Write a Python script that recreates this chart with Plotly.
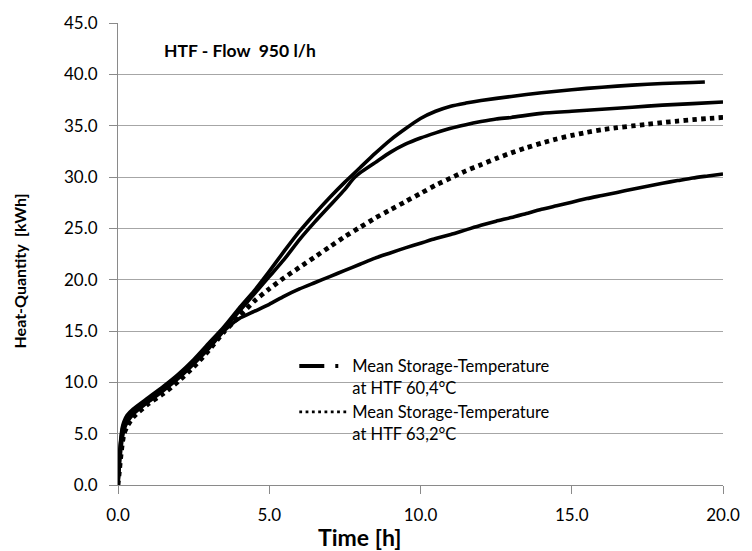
import plotly.graph_objects as go

# ---- data ----
time_a = [0, 0.05, 0.1, 0.15, 0.2, 0.3, 0.5, 1.0, 1.5, 2.0, 2.5, 3.0, 3.5, 4.0, 4.5, 5.0,
          5.5, 6.0, 6.5, 7.0, 7.5, 8.0, 8.5, 9.0, 9.5, 10.0, 10.5, 11.0, 11.5, 12.0,
          13.0, 14.0, 15.0, 16.0, 17.0, 18.0, 19.0, 19.4]
heat_a = [0, 3.0, 4.7, 5.7, 6.2, 6.8, 7.4, 8.5, 9.6, 10.8, 12.2, 13.8, 15.4, 17.2, 18.9, 20.8,
          22.8, 24.7, 26.4, 28.0, 29.5, 30.9, 32.3, 33.6, 34.7, 35.7, 36.4, 36.9, 37.2, 37.45,
          37.85, 38.2, 38.5, 38.75, 38.95, 39.1, 39.2, 39.25]

time_b = [0, 0.05, 0.1, 0.15, 0.2, 0.3, 0.5, 1.0, 1.5, 2.0, 2.5, 3.0, 3.5, 4.0, 4.5, 5.0,
          5.5, 6.0, 6.5, 7.0, 7.5, 7.8, 8.0, 8.5, 9.0, 9.5, 10.0, 10.5, 11.0, 11.5, 12.0,
          12.5, 13.0, 14.0, 15.0, 16.0, 17.0, 18.0, 19.0, 20.0]
heat_b = [0, 2.8, 4.5, 5.5, 6.0, 6.6, 7.2, 8.3, 9.4, 10.6, 12.0, 13.6, 15.2, 16.9, 18.6, 20.3,
          22.0, 23.9, 25.6, 27.2, 28.8, 29.9, 30.4, 31.4, 32.4, 33.2, 33.8, 34.3, 34.75, 35.1, 35.4,
          35.65, 35.8, 36.2, 36.4, 36.6, 36.8, 37.0, 37.15, 37.3]

time_c = [0, 0.05, 0.1, 0.15, 0.2, 0.3, 0.5, 1.0, 1.5, 2.0, 2.5, 3.0, 3.5, 4.0, 4.5, 5.0,
          5.5, 6.0, 6.5, 7.0, 7.5, 8.0, 8.5, 9.0, 9.5, 10.0, 10.5, 11.0, 11.5, 12.0, 12.5,
          13.0, 13.5, 14.0, 14.5, 15.0, 15.5, 16.0, 16.5, 17.0, 17.5, 18.0, 18.5, 19.0, 19.5, 20.0]
heat_c = [0, 1.5, 3.0, 4.2, 5.0, 5.7, 6.6, 7.9, 8.9, 10.1, 11.5, 13.1, 14.9, 16.4, 17.9, 19.1,
          20.2, 21.2, 22.2, 23.2, 24.2, 25.1, 26.0, 26.8, 27.6, 28.4, 29.2, 29.9, 30.6, 31.2, 31.8,
          32.35, 32.85, 33.3, 33.7, 34.05, 34.35, 34.6, 34.8, 34.97, 35.13, 35.3, 35.45, 35.58, 35.7, 35.8]

time_d = [0, 0.05, 0.1, 0.15, 0.2, 0.3, 0.5, 1.0, 1.5, 2.0, 2.5, 3.0, 3.5, 4.0, 4.5, 5.0,
          5.5, 6.0, 6.5, 7.0, 7.5, 8.0, 8.5, 9.0, 9.5, 10.0, 10.5, 11.0, 11.5, 12.0, 12.5,
          13.0, 13.5, 14.0, 14.5, 15.0, 15.5, 16.0, 16.5, 17.0, 17.5, 18.0, 18.5, 19.0, 19.5, 20.0]
heat_d = [0, 2.0, 3.6, 4.7, 5.4, 6.1, 6.9, 8.1, 9.2, 10.4, 11.8, 13.3, 15.0, 16.2, 16.9, 17.6,
          18.4, 19.1, 19.7, 20.3, 20.9, 21.5, 22.1, 22.6, 23.1, 23.55, 24.0, 24.4, 24.85, 25.3, 25.7,
          26.05, 26.45, 26.85, 27.2, 27.55, 27.9, 28.2, 28.5, 28.8, 29.1, 29.4, 29.65, 29.9, 30.1, 30.3]

legend_names = ["Mean Storage-Temperature<br>at HTF 60,4°C",
                "Mean Storage-Temperature<br>at HTF 63,2°C"]
x_ticks = [0, 5, 10, 15, 20]
y_ticks = [0, 5, 10, 15, 20, 25, 30, 35, 40, 45]

FONT = "Lato"
fig = go.Figure()

fig.add_trace(go.Scatter(x=time_a, y=heat_a, mode="lines", line_shape="spline",
                         line=dict(color="black", width=3.6, smoothing=0.6), showlegend=False))
fig.add_trace(go.Scatter(x=time_b, y=heat_b, mode="lines", line_shape="spline",
                         line=dict(color="black", width=3.6, smoothing=0.6), showlegend=False))
fig.add_trace(go.Scatter(x=time_d, y=heat_d, mode="lines", line_shape="spline",
                         line=dict(color="black", width=3.6, smoothing=0.6), showlegend=False))
fig.add_trace(go.Scatter(x=time_c, y=heat_c, mode="lines", line_shape="spline",
                         line=dict(color="black", width=4.8, dash="4.5px,4.3px", smoothing=0.6),
                         showlegend=False))

# legend entries
fig.add_trace(go.Scatter(x=[None], y=[None], mode="lines", name=legend_names[0],
                         line=dict(color="black", width=4, dash="25px,11px,3px,40px")))
fig.add_trace(go.Scatter(x=[None], y=[None], mode="lines", name=legend_names[1],
                         line=dict(color="black", width=2.8, dash="2.8px,3.5px")))

fig.update_layout(
    width=752, height=551,
    margin=dict(l=118, r=21, t=21, b=66),
    paper_bgcolor="white", plot_bgcolor="white",
    font=dict(family=FONT, color="black", size=17),
    showlegend=True,
    legend=dict(x=0.2914, y=0.295, xanchor="left", yanchor="top",
                bgcolor="rgba(0,0,0,0)", font=dict(size=16.5, family=FONT),
                itemwidth=48, valign="top", tracegroupgap=1),
    xaxis=dict(range=[0, 20], tickvals=x_ticks, tickformat=".1f",
               showgrid=False, zeroline=False, showline=True, linecolor="#8a8a8a",
               linewidth=1.2, ticks="outside", ticklen=8, tickcolor="#8a8a8a",
               tickfont=dict(size=17, family=FONT), ticklabelstandoff=6),
    yaxis=dict(range=[0, 45], tickvals=y_ticks, tickformat=".1f",
               showgrid=True, gridcolor="#a6a6a6", gridwidth=1.3, zeroline=False,
               showline=True, linecolor="#8a8a8a", linewidth=1.2,
               ticks="outside", ticklen=8, tickcolor="#8a8a8a",
               tickfont=dict(size=17, family=FONT), ticklabelstandoff=8),
    annotations=[
        dict(text="<b>HTF - Flow\u00a0 950 l/h</b>", xref="paper", yref="paper",
             x=0.0734, y=0.94, xanchor="left", yanchor="middle", showarrow=False,
             font=dict(size=17.5, family=FONT)),
        dict(text="<b>Heat-Quantity\u00a0 [kWh]</b>", xref="paper", yref="paper",
             x=-0.163, y=0.463, xanchor="center", yanchor="middle", showarrow=False,
             textangle=-90, font=dict(size=16, family=FONT)),
        dict(text="<b>Time [h]</b>", xref="paper", yref="paper",
             x=0.399, y=-0.112, xanchor="center", yanchor="middle", showarrow=False,
             font=dict(size=23, family=FONT)),
    ],
)

fig.write_html("out.html")
